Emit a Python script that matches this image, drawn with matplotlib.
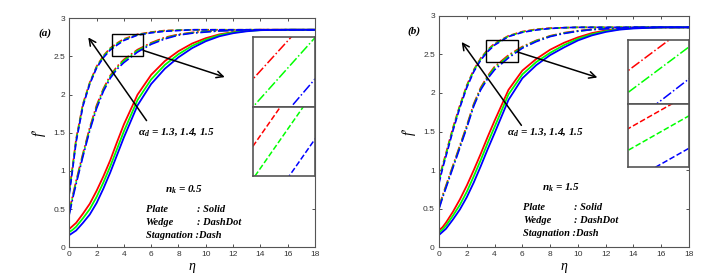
import numpy as np
import matplotlib.pyplot as plt
from matplotlib.patches import Rectangle

plt.rcParams['mathtext.fontset'] = 'custom'
plt.rcParams['mathtext.rm'] = 'Liberation Serif:italic:bold'
plt.rcParams['mathtext.it'] = 'Liberation Serif:italic:bold'
plt.rcParams['mathtext.bf'] = 'Liberation Serif:italic:bold'

# ---------------- data ----------------
eta = [0, 0.25, 0.5, 1, 1.5, 2, 2.5, 3, 3.5, 4, 5, 6, 7, 8, 9, 10, 11, 12, 13, 14, 16, 18]
alpha_d = [1.3, 1.4, 1.5]
colors = ['red', 'lime', 'blue']

# panel (a), n_k = 0.5
plate_a_r = [0.24, 0.28, 0.32, 0.44, 0.57, 0.74, 0.93, 1.14, 1.38, 1.61, 2.00, 2.26, 2.44, 2.57, 2.67, 2.74, 2.79, 2.82, 2.84, 2.85, 2.85, 2.85]
plate_a_g = [0.20, 0.23, 0.27, 0.38, 0.50, 0.66, 0.85, 1.06, 1.29, 1.52, 1.93, 2.20, 2.39, 2.53, 2.64, 2.72, 2.78, 2.815, 2.835, 2.845, 2.85, 2.85]
plate_a_b = [0.16, 0.19, 0.22, 0.32, 0.43, 0.58, 0.77, 0.98, 1.21, 1.44, 1.86, 2.14, 2.34, 2.49, 2.61, 2.70, 2.765, 2.805, 2.83, 2.845, 2.85, 2.85]
wedge_a_r = [0.47, 0.68, 0.87, 1.23, 1.57, 1.86, 2.08, 2.25, 2.37, 2.46, 2.59, 2.68, 2.75, 2.79, 2.815, 2.83, 2.84, 2.845, 2.85, 2.85, 2.85, 2.85]
wedge_a_g = [0.45, 0.66, 0.85, 1.21, 1.55, 1.84, 2.065, 2.235, 2.355, 2.445, 2.577, 2.67, 2.74, 2.785, 2.81, 2.825, 2.835, 2.845, 2.85, 2.85, 2.85, 2.85]
wedge_a_b = [0.43, 0.64, 0.83, 1.19, 1.53, 1.82, 2.045, 2.215, 2.335, 2.42, 2.558, 2.66, 2.73, 2.78, 2.805, 2.82, 2.835, 2.84, 2.85, 2.85, 2.85, 2.85]
stag_a_r = [0.74, 1.07, 1.42, 1.88, 2.16, 2.37, 2.51, 2.61, 2.675, 2.73, 2.79, 2.82, 2.84, 2.845, 2.85, 2.85, 2.85, 2.85, 2.85, 2.85, 2.85, 2.85]
stag_a_g = [0.72, 1.05, 1.40, 1.865, 2.15, 2.36, 2.50, 2.60, 2.665, 2.72, 2.785, 2.815, 2.835, 2.845, 2.85, 2.85, 2.85, 2.85, 2.85, 2.85, 2.85, 2.85]
stag_a_b = [0.70, 1.03, 1.38, 1.85, 2.14, 2.35, 2.485, 2.585, 2.65, 2.71, 2.78, 2.81, 2.83, 2.84, 2.85, 2.85, 2.85, 2.85, 2.85, 2.85, 2.85, 2.85]

# panel (b), n_k = 1.5
plate_b_r = [0.22, 0.26, 0.32, 0.46, 0.62, 0.80, 1.00, 1.21, 1.43, 1.64, 2.04, 2.29, 2.44, 2.56, 2.65, 2.72, 2.775, 2.81, 2.83, 2.845, 2.85, 2.85]
plate_b_g = [0.19, 0.23, 0.28, 0.41, 0.55, 0.72, 0.92, 1.13, 1.35, 1.56, 1.98, 2.24, 2.40, 2.52, 2.62, 2.70, 2.76, 2.80, 2.825, 2.84, 2.85, 2.85]
plate_b_b = [0.16, 0.20, 0.24, 0.36, 0.49, 0.65, 0.84, 1.05, 1.27, 1.48, 1.91, 2.19, 2.36, 2.49, 2.59, 2.68, 2.745, 2.79, 2.82, 2.835, 2.85, 2.85]
wedge_b_r = [0.52, 0.67, 0.80, 1.06, 1.32, 1.58, 1.86, 2.07, 2.22, 2.34, 2.49, 2.60, 2.68, 2.74, 2.78, 2.805, 2.825, 2.835, 2.845, 2.85, 2.85, 2.85]
wedge_b_g = [0.51, 0.655, 0.785, 1.045, 1.305, 1.565, 1.845, 2.055, 2.205, 2.325, 2.475, 2.59, 2.675, 2.735, 2.775, 2.80, 2.82, 2.835, 2.845, 2.85, 2.85, 2.85]
wedge_b_b = [0.50, 0.64, 0.77, 1.03, 1.29, 1.55, 1.83, 2.04, 2.185, 2.30, 2.455, 2.58, 2.665, 2.73, 2.77, 2.80, 2.82, 2.83, 2.84, 2.85, 2.85, 2.85]
stag_b_r = [0.88, 1.06, 1.22, 1.55, 1.84, 2.10, 2.30, 2.45, 2.56, 2.64, 2.74, 2.795, 2.825, 2.84, 2.845, 2.85, 2.85, 2.85, 2.85, 2.85, 2.85, 2.85]
stag_b_g = [0.86, 1.04, 1.20, 1.53, 1.825, 2.085, 2.29, 2.44, 2.55, 2.63, 2.735, 2.79, 2.82, 2.835, 2.845, 2.85, 2.85, 2.85, 2.85, 2.85, 2.85, 2.85]
stag_b_b = [0.83, 1.02, 1.18, 1.51, 1.81, 2.07, 2.275, 2.425, 2.535, 2.62, 2.73, 2.785, 2.815, 2.835, 2.845, 2.85, 2.85, 2.85, 2.85, 2.85, 2.85, 2.85]

panels = [
    dict(tag='(a)', nk='0.5',
         plate=[plate_a_r, plate_a_g, plate_a_b],
         wedge=[wedge_a_r, wedge_a_g, wedge_a_b],
         stag=[stag_a_r, stag_a_g, stag_a_b]),
    dict(tag='(b)', nk='1.5',
         plate=[plate_b_r, plate_b_g, plate_b_b],
         wedge=[wedge_b_r, wedge_b_g, wedge_b_b],
         stag=[stag_b_r, stag_b_g, stag_b_b]),
]

# ---------------- layout (figure fractions) ----------------
main_pos = [[0.0953, 0.1104, 0.338, 0.8237], [0.6039, 0.1104, 0.3439, 0.833]]
inset_top_pos = [[0.3476, 0.614, 0.0857, 0.2518], [0.8634, 0.6259, 0.0843, 0.2302]]
inset_bot_pos = [[0.3476, 0.368, 0.0857, 0.246], [0.8634, 0.4004, 0.0843, 0.2255]]
inset_top_lim = [([4.365, 4.635], [2.4931, 2.5290]), ([4.395, 4.605], [2.3765, 2.4205])]
inset_bot_lim = [([3.16, 3.37], [2.6219, 2.6428]), ([3.2135, 3.2865], [2.4795, 2.5085])]
box = [(3.1, 2.5, 2.31, 0.295), (3.38, 2.40, 2.28, 0.29)]
arrow1 = [((5.66, 1.66), (1.39, 2.75)), ((5.93, 1.58), (1.63, 2.66))]
arrow2 = [((5.41, 2.58), (11.39, 2.23)), ((5.66, 2.53), (11.4, 2.20))]
alpha_xy = [(5.0, 1.51), (4.9, 1.50)]
nk_xy = [(8.4, 0.75), (8.75, 0.77)]
leg_x = [(5.6, 9.34), (6.06, 9.7)]
leg_y = [[0.50, 0.33, 0.16], [0.52, 0.35, 0.18]]

serif = 'Liberation Serif'
fig = plt.figure(figsize=(7.27, 2.78), dpi=100)

for k, p in enumerate(panels):
    ax = fig.add_axes(main_pos[k])
    for i in range(3):
        ax.plot(eta, p['plate'][i], color=colors[i], lw=1.3, ls='-')
        ax.plot(eta, p['wedge'][i], color=colors[i], lw=1.2, ls='-.')
        ax.plot(eta, p['stag'][i], color=colors[i], lw=1.2, ls='--')
    ax.set_xlim(0, 18)
    ax.set_ylim(0, 3)
    ax.set_xticks(np.arange(0, 19, 2))
    ax.set_yticks([0, 0.5, 1, 1.5, 2, 2.5, 3])
    ax.set_yticklabels(['0', '0.5', '1', '1.5', '2', '2.5', '3'])
    ax.tick_params(direction='in', top=True, right=True, length=2.5, width=0.6,
                   labelsize=6, pad=3, colors='#333333')
    for lab in ax.get_xticklabels() + ax.get_yticklabels():
        lab.set_family('Liberation Sans')
    for s in ax.spines.values():
        s.set_color('#555555')
        s.set_linewidth(0.8)
    ax.set_xlabel('η', family=serif, style='italic', fontsize=10, labelpad=1)
    ax.set_ylabel("f'", family=serif, style='italic', fontsize=10, labelpad=5)
    ax.text(-0.1, 0.935, p['tag'], transform=ax.transAxes, family=serif,
            style='italic', weight='bold', fontsize=8, ha='center', va='center')

    x0, y0, w, h = box[k]
    ax.add_patch(Rectangle((x0, y0), w, h, fill=False, ec='black', lw=1.0, zorder=5))
    for (s0, s1) in (arrow1[k], arrow2[k]):
        ax.annotate('', xy=s1, xytext=s0,
                    arrowprops=dict(arrowstyle='->', lw=1.1, color='black',
                                    mutation_scale=12, shrinkA=0, shrinkB=0), zorder=6)
    ax.text(*alpha_xy[k], r'$\alpha_d$ = 1.3, 1.4, 1.5', family=serif, style='italic',
            weight='bold', fontsize=8, ha='left', va='center')
    ax.text(*nk_xy[k], r'$n_k$ = ' + p['nk'], family=serif, style='italic',
            weight='bold', fontsize=8, ha='center', va='center')
    names = ['Plate', 'Wedge', 'Stagnation :Dash']
    vals = [': Solid', ': DashDot', '']
    for j in range(3):
        ax.text(leg_x[k][0], leg_y[k][j], names[j], family=serif, style='italic',
                weight='bold', fontsize=7.5, ha='left', va='center')
        if vals[j]:
            ax.text(leg_x[k][1], leg_y[k][j], vals[j], family=serif, style='italic',
                    weight='bold', fontsize=7.5, ha='left', va='center')

    # zoomed insets: dash-dot (top) and dashed (bottom)
    for pos, lim, key, ls in ((inset_top_pos[k], inset_top_lim[k], 'wedge', '-.'),
                              (inset_bot_pos[k], inset_bot_lim[k], 'stag', '--')):
        ia = fig.add_axes(pos)
        for i in range(3):
            ia.plot(eta, p[key][i], color=colors[i], lw=1.1, ls=ls)
        ia.set_xlim(*lim[0])
        ia.set_ylim(*lim[1])
        ia.set_xticks([])
        ia.set_yticks([])
        for s in ia.spines.values():
            s.set_color('#555555')
            s.set_linewidth(1.2)

fig.savefig('out.png', dpi=100)
